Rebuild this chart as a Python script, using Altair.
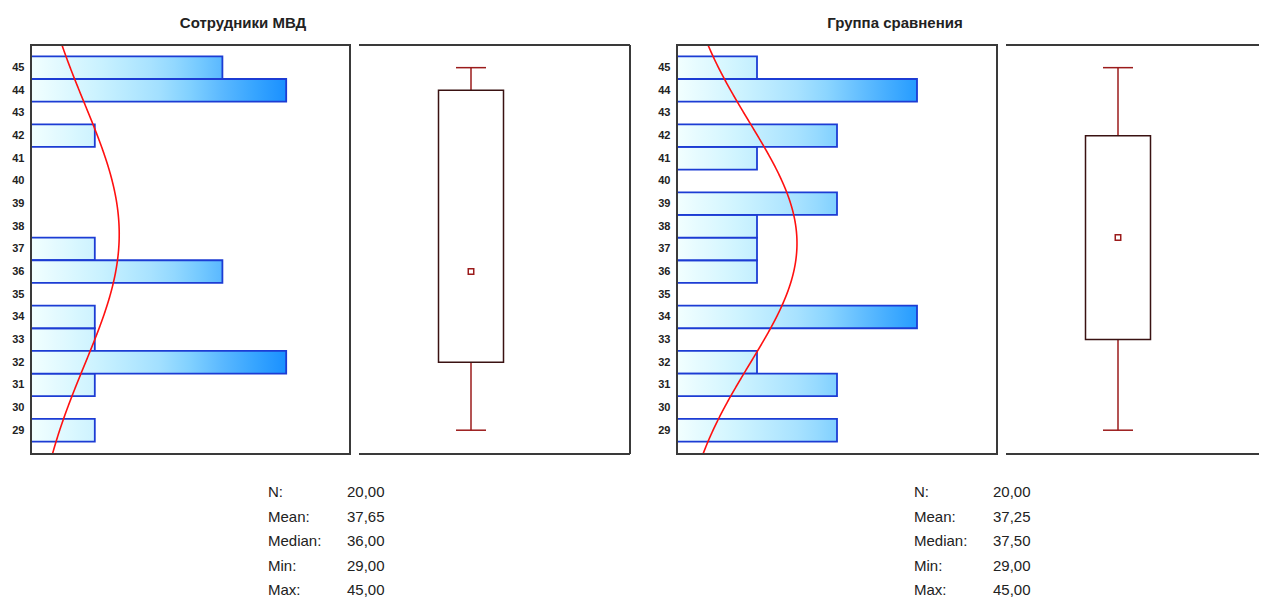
import altair as alt
import numpy as np
import pandas as pd

# ---------------- data ----------------
score = list(range(29, 46))                       # y tick labels 29..45
counts_mvd = [1, 0, 1, 4, 1, 1, 0, 3, 1, 0, 0, 0, 0, 1, 0, 4, 3]   # "Сотрудники МВД"
counts_cmp = [2, 0, 2, 1, 0, 3, 0, 1, 1, 1, 2, 0, 1, 2, 0, 3, 1]   # "Группа сравнения"
titles = ["Сотрудники МВД", "Группа сравнения"]
stat_labels = ["N:", "Mean:", "Median:", "Min:", "Max:"]
x_max = [5, 4]

# ---------------- style ----------------
FONT = "Liberation Sans"
FRAME = "#3a3a3a"
BAR_STROKE = "#1c3cd4"
DARK_RED = "#9b1b1b"
BOX_STROKE = "#3a1212"
Y_DOMAIN = [27.95, 46.0]
HIST_H = 409
SPACING = 9
BOX_W = 271
STAT_Y = 452          # first baseline of the statistics block, relative to panel top
STAT_LH = 24.5

G = [(0.0, (242, 255, 255)), (0.2, (205, 243, 255)), (0.4, (163, 224, 255)),
     (0.5, (128, 208, 255)), (0.6, (90, 184, 255)), (0.75, (38, 156, 255)),
     (0.8, (26, 144, 255)), (1.0, (20, 130, 255))]


def interp_color(f):
    for (a, ca), (b, cb) in zip(G[:-1], G[1:]):
        if f <= b:
            t = 0 if b == a else (f - a) / (b - a)
            c = [round(ca[i] + (cb[i] - ca[i]) * t) for i in range(3)]
            return "#%02x%02x%02x" % tuple(c)
    return "#%02x%02x%02x" % G[-1][1]


def bar_gradient(f):
    n = 8
    stops = [alt.GradientStop(offset=i / n, color=interp_color(f * i / n)) for i in range(n + 1)]
    return alt.LinearGradient(gradient="linear", stops=stops, x1=0, x2=1, y1=0, y2=0)


def fmt(v):
    return f"{v:.2f}".replace(".", ",")


def stats_of(counts):
    raw = np.repeat(score, counts).astype(float)
    return dict(
        n=len(raw), mean=raw.mean(), sd=raw.std(ddof=1), median=float(np.median(raw)),
        mn=raw.min(), mx=raw.max(),
        q1=float(np.percentile(raw, 25, method="midpoint")),
        q3=float(np.percentile(raw, 75, method="midpoint")),
    )


yscale = alt.Scale(domain=Y_DOMAIN, nice=False, zero=False)
y_axis = alt.Axis(values=score, ticks=False, domain=False, grid=False, labelPadding=7,
                  labelFontSize=11, labelFont=FONT, labelFontWeight="bold", labelColor="#222222",
                  title=None, format="d")


def hist_panel(counts, xmax, title, title_x, width):
    st = stats_of(counts)
    df = pd.DataFrame({"score": score, "freq": counts})
    df = df[df["freq"] > 0]
    xscale = alt.Scale(domain=[0, xmax], nice=False, zero=True)
    base = alt.Chart(df).transform_calculate(lo="datum.score - 0.5", hi="datum.score + 0.5", zero="0")
    layers = []
    for c in sorted(df["freq"].unique()):
        layers.append(
            base.transform_filter(f"datum.freq == {c}")
            .mark_rect(fill=bar_gradient(c / xmax), stroke=BAR_STROKE, strokeWidth=1.8)
            .encode(x=alt.X("zero:Q", scale=xscale, axis=None), x2="freq:Q",
                    y=alt.Y("lo:Q", scale=yscale, axis=y_axis), y2="hi:Q")
        )
    curve = (
        alt.Chart(alt.sequence(27.9, 46.1, 0.05, as_="v"))
        .transform_calculate(
            dens=f"{st['n']} * exp(-0.5 * pow((datum.v - {st['mean']}) / {st['sd']}, 2)) / ({st['sd']} * sqrt(2 * PI))"
        )
        .mark_line(color="#ff1010", strokeWidth=1.6, clip=True)
        .encode(x=alt.X("dens:Q", scale=xscale, axis=None),
                y=alt.Y("v:Q", scale=yscale, axis=y_axis), order="v:Q")
    )
    frame = alt.Chart(pd.DataFrame({"a": [0]})).mark_rect(
        fillOpacity=0, stroke=FRAME, strokeWidth=2
    ).encode(x=alt.value(0), x2=alt.value(width), y=alt.value(0), y2=alt.value(HIST_H))
    ttl = alt.Chart(pd.DataFrame({"t": [title]})).mark_text(
        font=FONT, fontSize=15, fontWeight="bold", color="#222222", align="center", baseline="alphabetic"
    ).encode(text="t:N", x=alt.value(title_x), y=alt.value(-17))
    stat_vals = [fmt(st["n"]), fmt(st["mean"]), fmt(st["median"]), fmt(st["mn"]), fmt(st["mx"])]
    lab = alt.Chart(pd.DataFrame({"t": ["\n".join(stat_labels)]})).mark_text(
        font=FONT, fontSize=15, color="#222222", align="left", baseline="alphabetic",
        lineBreak="\n", lineHeight=STAT_LH
    ).encode(text="t:N", x=alt.value(237), y=alt.value(STAT_Y))
    val = alt.Chart(pd.DataFrame({"t": ["\n".join(stat_vals)]})).mark_text(
        font=FONT, fontSize=15, color="#222222", align="left", baseline="alphabetic",
        lineBreak="\n", lineHeight=STAT_LH
    ).encode(text="t:N", x=alt.value(316), y=alt.value(STAT_Y))
    return alt.layer(*layers, curve, frame, ttl, lab, val).properties(width=width, height=HIST_H)


def box_panel(counts, width, frame_w, right_border):
    st = stats_of(counts)
    df = pd.DataFrame([{k: st[k] for k in ["mn", "q1", "median", "q3", "mx"]}])
    base = alt.Chart(df)
    cx, half_box, half_cap = 112, 32.5, 15
    y = lambda f: alt.Y(f"{f}:Q", scale=yscale, axis=None)
    w_lo = base.mark_rule(color=DARK_RED, strokeWidth=1.5).encode(x=alt.value(cx), y=y("mn"), y2="q1:Q")
    w_hi = base.mark_rule(color=DARK_RED, strokeWidth=1.5).encode(x=alt.value(cx), y=y("q3"), y2="mx:Q")
    cap_lo = base.mark_rule(color=DARK_RED, strokeWidth=1.5).encode(
        x=alt.value(cx - half_cap), x2=alt.value(cx + half_cap), y=y("mn"))
    cap_hi = base.mark_rule(color=DARK_RED, strokeWidth=1.5).encode(
        x=alt.value(cx - half_cap), x2=alt.value(cx + half_cap), y=y("mx"))
    box = base.mark_rect(fill="white", stroke=BOX_STROKE, strokeWidth=1.5).encode(
        x=alt.value(cx - half_box), x2=alt.value(cx + half_box), y=y("q1"), y2="q3:Q")
    med = base.mark_point(shape="square", size=30, filled=False, color=DARK_RED, strokeWidth=1.5,
                          opacity=1).encode(x=alt.value(cx), y=y("median"))
    one = pd.DataFrame({"a": [0]})
    top = alt.Chart(one).mark_rule(color=FRAME, strokeWidth=2).encode(
        x=alt.value(0), x2=alt.value(frame_w), y=alt.value(0))
    bot = alt.Chart(one).mark_rule(color=FRAME, strokeWidth=2).encode(
        x=alt.value(0), x2=alt.value(frame_w), y=alt.value(HIST_H))
    layers = [top, bot]
    if right_border:
        layers.append(alt.Chart(one).mark_rule(color=FRAME, strokeWidth=2).encode(
            x=alt.value(frame_w), y=alt.value(0), y2=alt.value(HIST_H)))
    layers += [w_lo, w_hi, cap_lo, cap_hi, box, med]
    return alt.layer(*layers).properties(width=width, height=HIST_H)


histL = hist_panel(counts_mvd, x_max[0], titles[0], 212, 319)
# the left box panel also carries the empty gap before the right group
boxL = box_panel(counts_mvd, BOX_W + 47 - SPACING, BOX_W, True)
histR = hist_panel(counts_cmp, x_max[1], titles[1], 218, 320)
# the right box panel runs off the edge of the picture in the reference
boxR = box_panel(counts_cmp, 253, 253, False)

chart = (
    alt.hconcat(histL, boxL, histR, boxR, spacing=SPACING, bounds="flush")
    .resolve_scale(x="independent", y="independent")
    .properties(padding={"left": 3, "top": 8, "right": 0, "bottom": 0}, background="white")
    .configure_view(strokeOpacity=0)
)

chart.save("out.html", embed_options={"renderer": "svg", "actions": False})
